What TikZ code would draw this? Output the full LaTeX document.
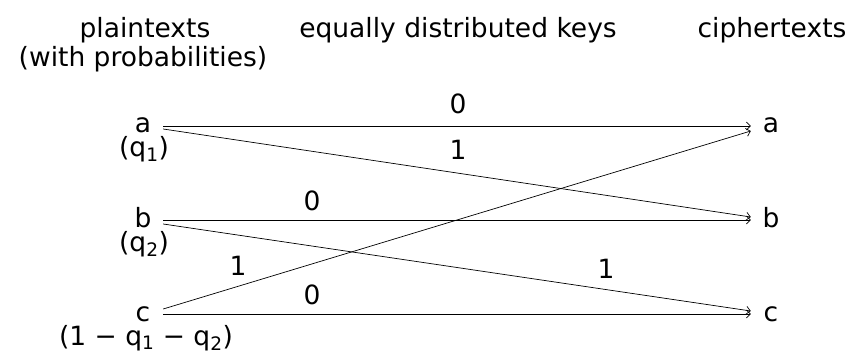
\documentclass[tikz,border=0pt]{standalone}
\usepackage{fontspec}
\setmainfont{DejaVu Sans}
\usetikzlibrary{arrows.meta}
\begin{document}
\begin{tikzpicture}[x=1pt,y=-1pt,
  every node/.style={font=\fontsize{26.5}{32}\selectfont, inner sep=0pt},
  letter/.style={text height=14pt, text depth=0pt, minimum width=40pt, inner sep=0pt},
  lbl/.style={anchor=base},
  conn/.style={line width=0.7pt, -{Straight Barb[length=4pt,width=8pt]}}]
\useasboundingbox (0,0) rectangle (853,358);
% headers
\node[lbl] (h1) at (145,38) {plaintexts};
\node[lbl] (h1b) at (143,67) {(with probabilities)};
\node[lbl] (h2) at (458,38) {equally distributed keys};
\node[lbl] (h3) at (772,38) {ciphertexts};
% left letters
\node[letter] (la) at (143,126) {a};
\node[letter] (lb) at (143,220) {b};
\node[letter] (lc) at (143,314) {c};
\node[lbl] (pa) at (144,157) {(q\textsubscript{1})};
\node[lbl] (pb) at (144,251) {(q\textsubscript{2})};
\node[lbl] (pc) at (146,345) {(1 − q\textsubscript{1} − q\textsubscript{2})};
% right letters
\node[letter] (ra) at (771,126) {a};
\node[letter] (rb) at (771,220) {b};
\node[letter] (rc) at (771,314) {c};
% connectors
\draw[conn] (la.east) -- (ra.west);
\draw[conn] ([yshift=-3pt]la.east) -- ([yshift=3pt]rb.west);
\draw[conn] (lb.east) -- (rb.west);
\draw[conn] ([yshift=-4pt]lb.east) -- ([yshift=3pt]rc.west);
\draw[conn] ([yshift=5pt]lc.east) -- ([yshift=-5pt]ra.west);
\draw[conn] (lc.east) -- (rc.west);
% key labels
\node[lbl] (k1) at (458,114) {0};
\node[lbl] (k2) at (458,160) {1};
\node[lbl] (k3) at (312,210) {0};
\node[lbl] (k4) at (238,275) {1};
\node[lbl] (k5) at (606,278) {1};
\node[lbl] (k6) at (312,304) {0};
\end{tikzpicture}
\end{document}
